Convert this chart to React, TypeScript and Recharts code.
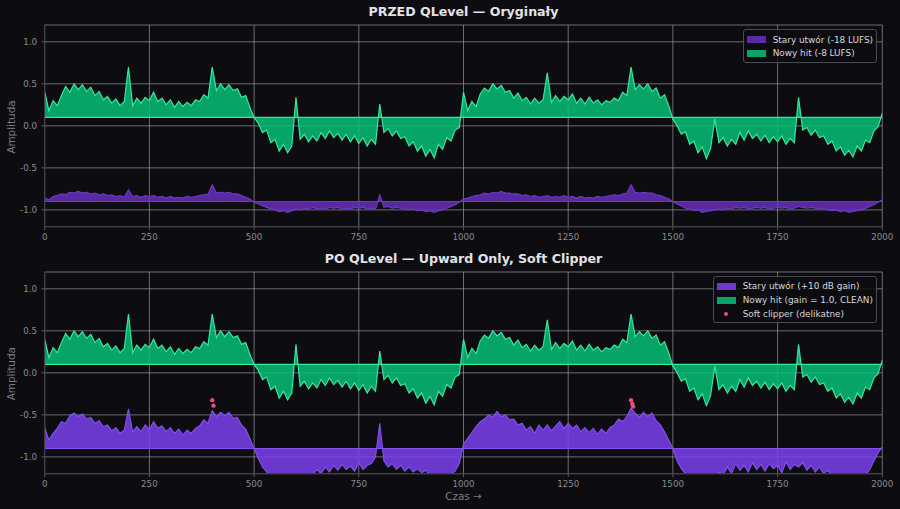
import React from "react";
import {
  Area,
  CartesianGrid,
  ComposedChart,
  Scatter,
  XAxis,
  YAxis,
} from "recharts";

// sample spacing of the value lists below (one value every 10 time units)
const SAMPLE_STEP = 10;

const timeTicks = [0, 250, 500, 750, 1000, 1250, 1500, 1750, 2000];
const ampTicks = [-1, -0.5, 0, 0.5, 1];

// "Nowy hit" — same waveform in both panels (gain = 1.0)
const nowyHit = [
  0.4, 0.18, 0.3, 0.24, 0.36, 0.47, 0.4, 0.5, 0.43, 0.49,
  0.41, 0.46, 0.36, 0.41, 0.31, 0.35, 0.27, 0.32, 0.24, 0.29,
  0.7, 0.24, 0.33, 0.27, 0.34, 0.3, 0.4, 0.29, 0.33, 0.25,
  0.31, 0.22, 0.29, 0.23, 0.28, 0.24, 0.31, 0.29, 0.37, 0.33,
  0.7, 0.42, 0.5, 0.43, 0.49, 0.42, 0.44, 0.34, 0.36, 0.22,
  0.1, 0.03, -0.08, -0.05, -0.2, -0.16, -0.3, -0.22, -0.32, -0.24,
  0.34, -0.16, -0.1, -0.19, -0.12, -0.18, -0.08, -0.15, -0.06, -0.14,
  -0.09, -0.17, -0.1, -0.19, -0.12, -0.21, -0.14, -0.24, -0.16, -0.22,
  0.26, -0.08, -0.03, -0.12, -0.06, -0.15, -0.13, -0.24, -0.19, -0.3,
  -0.24, -0.36, -0.28, -0.38, -0.22, -0.28, -0.14, -0.18, -0.05, -0.02,
  0.4, 0.18, 0.29, 0.23, 0.38, 0.45, 0.41, 0.5, 0.44, 0.48,
  0.4, 0.42, 0.33, 0.39, 0.3, 0.34, 0.26, 0.33, 0.27, 0.31,
  0.63, 0.28, 0.36, 0.29, 0.35, 0.31, 0.38, 0.27, 0.33, 0.26,
  0.34, 0.27, 0.31, 0.25, 0.3, 0.28, 0.33, 0.3, 0.4, 0.36,
  0.7, 0.43, 0.49, 0.44, 0.5, 0.41, 0.45, 0.33, 0.37, 0.24,
  0.08, 0.0, -0.1, -0.07, -0.22, -0.18, -0.32, -0.25, -0.39, -0.27,
  0.08, -0.2, -0.14, -0.24, -0.16, -0.22, -0.08, -0.17, -0.06, -0.15,
  -0.1, -0.18, -0.11, -0.2, -0.13, -0.19, -0.12, -0.22, -0.15, -0.2,
  0.34, -0.05, -0.02, -0.11, -0.05, -0.14, -0.12, -0.22, -0.18, -0.3,
  -0.25, -0.35, -0.29, -0.37, -0.24, -0.3, -0.17, -0.2, -0.06, -0.01,
  0.15,
];

// "Stary utwór" before QLevel (-18 LUFS)
const staryPrzed = [
  -0.86, -0.88, -0.84, -0.83, -0.81, -0.82, -0.79, -0.8, -0.78, -0.8,
  -0.79, -0.81, -0.8, -0.82, -0.81, -0.83, -0.82, -0.84, -0.83, -0.85,
  -0.76, -0.84, -0.83, -0.85, -0.83, -0.84, -0.83, -0.85, -0.84, -0.86,
  -0.84, -0.86, -0.85, -0.86, -0.84, -0.85, -0.84, -0.83, -0.82, -0.81,
  -0.7, -0.8, -0.79, -0.8, -0.79, -0.81, -0.81, -0.83, -0.85, -0.87,
  -0.91, -0.93, -0.95, -0.97, -0.99, -1.0, -1.02, -1.01, -1.03, -1.01,
  -0.99, -1.0, -0.98, -0.99, -0.97, -0.99, -0.98, -0.99, -0.97, -0.98,
  -0.97, -0.99, -0.98, -0.99, -0.97, -0.98, -0.97, -0.99, -0.98, -0.99,
  -0.82, -0.97, -0.96, -0.98, -0.97, -0.98, -0.99, -1.0, -0.99, -1.01,
  -1.0, -1.02, -1.01, -1.03, -1.01, -1.0, -0.98, -0.96, -0.94, -0.91,
  -0.87, -0.86, -0.84, -0.83, -0.82, -0.8, -0.81, -0.79, -0.8, -0.78,
  -0.8, -0.8, -0.81, -0.81, -0.83, -0.82, -0.84, -0.83, -0.85, -0.84,
  -0.83, -0.85, -0.84, -0.85, -0.83, -0.85, -0.84, -0.86, -0.84, -0.86,
  -0.85, -0.86, -0.84, -0.85, -0.84, -0.83, -0.82, -0.83, -0.81, -0.8,
  -0.7, -0.79, -0.8, -0.79, -0.8, -0.8, -0.82, -0.83, -0.85, -0.87,
  -0.9, -0.93, -0.95, -0.98, -0.99, -1.01, -1.0, -1.03, -1.02, -1.01,
  -1.0, -0.99, -1.0, -0.98, -0.99, -0.97, -0.98, -0.97, -0.99, -0.98,
  -0.97, -0.98, -0.97, -0.99, -0.98, -0.97, -0.98, -0.97, -0.99, -0.98,
  -0.96, -0.97, -0.98, -0.97, -0.98, -0.99, -0.98, -1.0, -1.01, -1.0,
  -1.02, -1.01, -1.03, -1.02, -1.01, -1.0, -0.98, -0.96, -0.94, -0.91,
  -0.88,
];

// "Stary utwór" after QLevel (+10 dB gain)
const staryPo = [
  -0.65, -0.8, -0.72, -0.66, -0.58, -0.6, -0.51, -0.48, -0.52, -0.49,
  -0.55, -0.53, -0.6, -0.57, -0.64, -0.62, -0.69, -0.65, -0.72, -0.68,
  -0.43, -0.7, -0.64, -0.7, -0.62, -0.67, -0.58, -0.66, -0.63, -0.7,
  -0.65, -0.72, -0.67, -0.74, -0.68, -0.72, -0.66, -0.63, -0.56, -0.6,
  -0.45, -0.52, -0.47, -0.51, -0.47, -0.54, -0.53, -0.62, -0.67, -0.78,
  -0.9, -1.02, -1.12, -1.18, -1.25, -1.26, -1.28, -1.3, -1.28, -1.3,
  -1.22, -1.27, -1.25, -1.24, -1.22, -1.15, -1.2, -1.12, -1.18, -1.1,
  -1.16, -1.09, -1.15, -1.11, -1.17, -1.07, -1.15, -1.1, -1.08, -1.0,
  -0.6, -1.05, -1.12, -1.08, -1.15, -1.1, -1.17, -1.12, -1.18, -1.14,
  -1.19, -1.16, -1.22, -1.25, -1.27, -1.26, -1.24, -1.2, -1.17, -1.08,
  -0.85, -0.78, -0.71, -0.64, -0.58, -0.55, -0.5, -0.53, -0.46, -0.52,
  -0.5, -0.56, -0.55, -0.62, -0.6, -0.68, -0.64, -0.72, -0.62, -0.68,
  -0.62, -0.69, -0.63, -0.58, -0.66, -0.6, -0.66, -0.62, -0.7, -0.65,
  -0.71, -0.66, -0.73, -0.67, -0.72, -0.65, -0.62, -0.55, -0.58, -0.52,
  -0.42, -0.48, -0.53, -0.47, -0.52, -0.48, -0.57, -0.62, -0.7, -0.8,
  -0.9, -1.05, -1.14, -1.2, -1.26, -1.28, -1.27, -1.3, -1.28, -1.26,
  -1.24, -1.18, -1.22, -1.12, -1.2, -1.08, -1.16, -1.1, -1.18, -1.07,
  -1.15, -1.09, -1.17, -1.08, -1.14, -1.1, -1.19, -1.06, -1.15, -1.09,
  -1.12, -1.07, -1.16, -1.1, -1.18, -1.12, -1.2, -1.16, -1.23, -1.25,
  -1.27, -1.28, -1.3, -1.27, -1.29, -1.26, -1.22, -1.15, -1.05, -0.95,
  -0.88,
];

// soft clipper hits (time, amplitude)
const clipTimes = [400, 403, 1400, 1403, 1405];
const clipAmps = [-0.325, -0.39, -0.325, -0.37, -0.4];

const BG = "#0d0d11";
const GRID = "#9a9aa0";
const TICK = "#8a8a90";
const FONT = "'DejaVu Sans', Verdana, sans-serif";

// fills are slightly translucent so the grid shows through, as in the original
const FILL_ALPHA = 0.85;
const GREEN_FILL = "#06bf75";
const GREEN_EDGE = "#36e89e";
const PURPLE_TOP = "#6630bb";
const PURPLE_TOP_EDGE = "#7038c8";
const PURPLE_BOT = "#7d41ee";
const PURPLE_BOT_EDGE = "#8550f0";
const CLIP = "#ec4a80";

const LEGEND_GREEN = "#07a667";
const LEGEND_PURPLE_TOP = "#5a2ba3";
const LEGEND_PURPLE_BOT = "#6d39cf";

const rows = nowyHit.map((g, i) => ({
  x: i * SAMPLE_STEP,
  green: g,
  przed: staryPrzed[i],
  po: staryPo[i],
}));

const clipRows = clipTimes.map((t, i) => ({ x: t, y: clipAmps[i] }));

const PLOT_LEFT = 44.7;
const PLOT_RIGHT = 882.3;

type PanelProps = {
  top: number;
  purpleKey: "przed" | "po";
  purpleFill: string;
  purpleEdge: string;
  withClip?: boolean;
};

function Panel({ top, purpleKey, purpleFill, purpleEdge, withClip }: PanelProps) {
  return (
    <div style={{ position: "absolute", left: 0, top }}>
      <ComposedChart
        width={900}
        height={254}
        data={rows}
        margin={{ top: 25, right: 900 - PLOT_RIGHT, left: 0, bottom: 0 }}
      >
        <CartesianGrid stroke={GRID} strokeWidth={0.8} strokeOpacity={0.85} />
        <XAxis
          dataKey="x"
          type="number"
          domain={[0, 2000]}
          ticks={timeTicks}
          allowDataOverflow
          height={27.3}
          tickSize={3.5}
          tickMargin={3.2}
          tick={{ fill: TICK, fontSize: 8.7, fontFamily: FONT }}
          tickLine={{ stroke: "#55555c" }}
          axisLine={{ stroke: "#3a3a40" }}
        />
        <YAxis
          type="number"
          domain={[-1.2, 1.2]}
          ticks={ampTicks}
          allowDataOverflow
          width={PLOT_LEFT}
          tickSize={3.5}
          tickMargin={4.2}
          tickFormatter={(v: number) => v.toFixed(1)}
          tick={{ fill: TICK, fontSize: 8.7, fontFamily: FONT }}
          tickLine={{ stroke: "#55555c" }}
          axisLine={{ stroke: "#3a3a40" }}
        />
        <Area
          type="linear"
          dataKey={(d: any) => [-0.9, d[purpleKey]]}
          fill={purpleFill}
          fillOpacity={FILL_ALPHA}
          stroke={purpleEdge}
          strokeWidth={1.1}
          isAnimationActive={false}
          dot={false}
          activeDot={false}
        />
        <Area
          type="linear"
          dataKey={(d: any) => [0.1, d.green]}
          fill={GREEN_FILL}
          fillOpacity={FILL_ALPHA}
          stroke={GREEN_EDGE}
          strokeWidth={1.2}
          isAnimationActive={false}
          dot={false}
          activeDot={false}
        />
        {withClip && (
          <Scatter
            data={clipRows}
            dataKey="y"
            fill={CLIP}
            isAnimationActive={false}
            shape={(p: any) => <circle cx={p.cx} cy={p.cy} r={2.2} fill={CLIP} />}
          />
        )}
      </ComposedChart>
    </div>
  );
}

type LegendItem = { label: string; color: string; kind: "patch" | "dot" };

const legendPrzed: LegendItem[] = [
  { label: "Stary utwór (-18 LUFS)", color: LEGEND_PURPLE_TOP, kind: "patch" },
  { label: "Nowy hit (-8 LUFS)", color: LEGEND_GREEN, kind: "patch" },
];

const legendPo: LegendItem[] = [
  { label: "Stary utwór (+10 dB gain)", color: LEGEND_PURPLE_BOT, kind: "patch" },
  { label: "Nowy hit (gain = 1.0, CLEAN)", color: LEGEND_GREEN, kind: "patch" },
  { label: "Soft clipper (delikatne)", color: CLIP, kind: "dot" },
];

function LegendBox({ items, left, top, width }: { items: LegendItem[]; left: number; top: number; width: number }) {
  return (
    <div
      style={{
        position: "absolute",
        left,
        top,
        width,
        boxSizing: "border-box",
        padding: "3px 4px 2px 3px",
        background: "rgba(13,13,17,0.85)",
        border: "0.8px solid #4a4a52",
        borderRadius: 3,
        fontFamily: FONT,
        fontSize: 8.9,
        color: "#d6d6da",
      }}
    >
      {items.map((it) => (
        <div key={it.label} style={{ display: "flex", alignItems: "center", height: 13.6 }}>
          <div style={{ width: 19, display: "flex", justifyContent: "center", marginRight: 7 }}>
            {it.kind === "patch" ? (
              <div style={{ width: 19, height: 7, background: it.color }} />
            ) : (
              <div style={{ width: 4, height: 4, borderRadius: 2, background: it.color }} />
            )}
          </div>
          <span style={{ whiteSpace: "nowrap" }}>{it.label}</span>
        </div>
      ))}
    </div>
  );
}

export default function App() {
  const midX = (PLOT_LEFT + PLOT_RIGHT) / 2;
  return (
    <div
      style={{
        position: "fixed",
        left: 0,
        top: 0,
        width: 900,
        height: 509,
        background: BG,
        overflow: "hidden",
        fontFamily: FONT,
      }}
    >
      <Panel top={0} purpleKey="przed" purpleFill={PURPLE_TOP} purpleEdge={PURPLE_TOP_EDGE} />
      <Panel top={246.9} purpleKey="po" purpleFill={PURPLE_BOT} purpleEdge={PURPLE_BOT_EDGE} withClip />

      <svg width={900} height={509} style={{ position: "absolute", left: 0, top: 0, pointerEvents: "none" }}>
        <text x={midX} y={16} textAnchor="middle" fill="#e2e2e6" fontSize={12.6} fontWeight="bold" fontFamily={FONT}>
          PRZED QLevel — Oryginały
        </text>
        <text x={midX} y={263.3} textAnchor="middle" fill="#e2e2e6" fontSize={12.6} fontWeight="bold" fontFamily={FONT}>
          PO QLevel — Upward Only, Soft Clipper
        </text>
        <text
          x={0}
          y={0}
          transform="translate(14.5,127) rotate(-90)"
          textAnchor="middle"
          fill="#7c7c82"
          fontSize={10.4}
          fontFamily={FONT}
        >
          Amplituda
        </text>
        <text
          x={0}
          y={0}
          transform="translate(14.5,373.7) rotate(-90)"
          textAnchor="middle"
          fill="#7c7c82"
          fontSize={10.4}
          fontFamily={FONT}
        >
          Amplituda
        </text>
        <text x={midX} y={499.5} textAnchor="middle" fill="#7c7c82" fontSize={10.4} fontFamily={FONT}>
          Czas →
        </text>
      </svg>

      <LegendBox items={legendPrzed} left={742.7} top={29} width={134.5} />
      <LegendBox items={legendPo} left={712.7} top={275.7} width={164.5} />
    </div>
  );
}
